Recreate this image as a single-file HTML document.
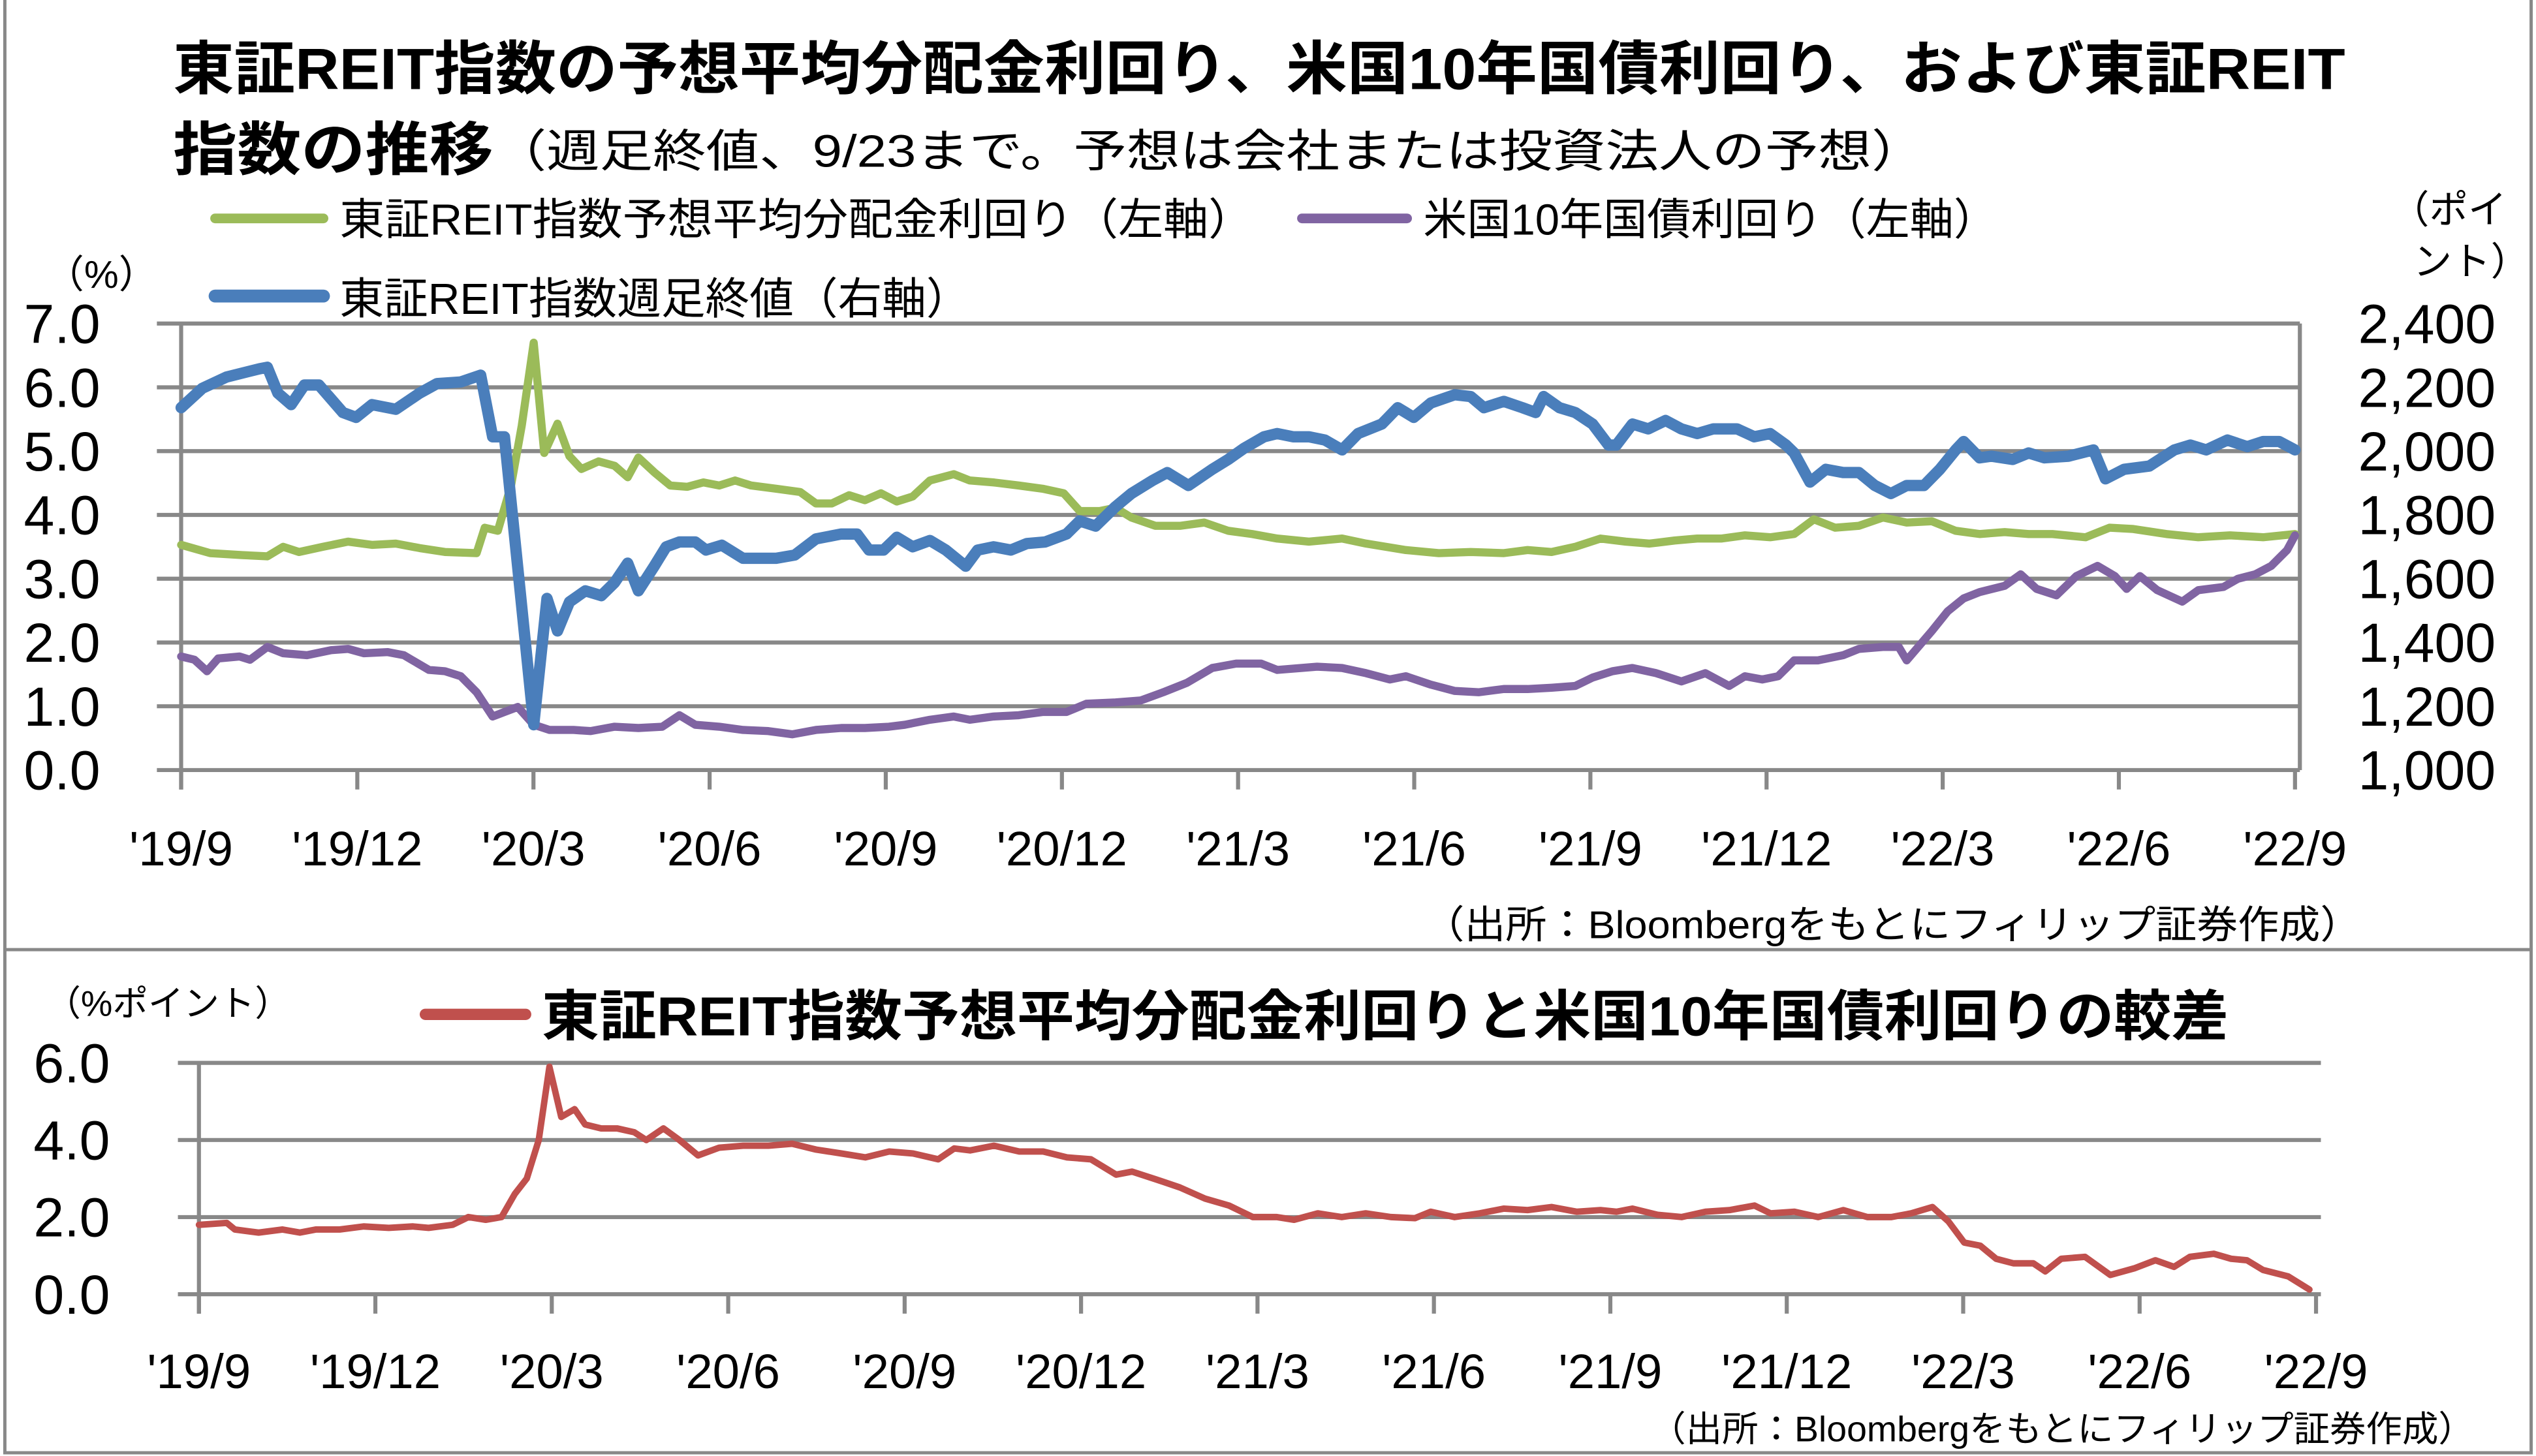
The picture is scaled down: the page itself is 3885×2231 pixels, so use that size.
<!DOCTYPE html>
<html><head><meta charset="utf-8">
<style>
html,body{margin:0;padding:0;background:#fff;}
svg{display:block;}
text{font-family:"Liberation Sans","Noto Sans CJK JP",sans-serif;fill:#000;}
</style></head>
<body>
<svg id="chart" width="3885" height="2231" viewBox="0 0 1568 900" preserveAspectRatio="none" xmlns="http://www.w3.org/2000/svg">
<rect x="0" y="0" width="1568" height="900" fill="#fff"/>
<rect x="3" y="587" width="1562" height="311" fill="none" stroke="#888" stroke-width="2"/>
<line x1="3" y1="0" x2="3" y2="587" stroke="#888" stroke-width="2"/>
<line x1="1565" y1="0" x2="1565" y2="587" stroke="#888" stroke-width="2"/>

<text x="107" y="55" font-size="36" font-weight="bold" textLength="1343" lengthAdjust="spacingAndGlyphs">東証REIT指数の予想平均分配金利回り、米国10年国債利回り、および東証REIT</text>
<text x="107" y="105" font-size="36" font-weight="bold" textLength="198" lengthAdjust="spacingAndGlyphs">指数の推移</text>
<text x="305" y="103" font-size="28" textLength="885" lengthAdjust="spacingAndGlyphs">（週足終値、9/23まで。予想は会社または投資法人の予想）</text>

<g>
<line x1="133" y1="135" x2="200" y2="135" stroke="#9BBB59" stroke-width="6" stroke-linecap="round"/>
<text x="210" y="145" font-size="27" textLength="565" lengthAdjust="spacingAndGlyphs">東証REIT指数予想平均分配金利回り（左軸）</text>
</g>
<g>
<line x1="805" y1="135" x2="870" y2="135" stroke="#8064A2" stroke-width="6" stroke-linecap="round"/>
<text x="880" y="145" font-size="27" textLength="355" lengthAdjust="spacingAndGlyphs">米国10年国債利回り（左軸）</text>
</g>
<g>
<line x1="133" y1="183" x2="200" y2="183" stroke="#4A7EBB" stroke-width="8" stroke-linecap="round"/>
<text x="210" y="194" font-size="27" textLength="390" lengthAdjust="spacingAndGlyphs">東証REIT指数週足終値（右軸）</text>
</g>
<text x="28" y="178" font-size="24">（%）</text>
<text x="1478" y="138" font-size="24">（ポイ</text>
<text x="1492" y="170" font-size="24">ント）</text>
<g id="top-grid"></g>
<g id="top-series"></g>
<text x="880" y="580" font-size="24" textLength="580" lengthAdjust="spacingAndGlyphs">（出所：Bloombergをもとにフィリップ証券作成）</text>

<text x="28" y="628" font-size="22">（%ポイント）</text>
<g>
<line x1="263" y1="627" x2="325" y2="627" stroke="#C0504D" stroke-width="7" stroke-linecap="round"/>
<text x="335" y="640" font-size="34" font-weight="bold" textLength="1043" lengthAdjust="spacingAndGlyphs">東証REIT指数予想平均分配金利回りと米国10年国債利回りの較差</text>
</g>
<g id="bottom-grid"></g>
<g id="bottom-series"></g>
<text x="1020" y="891" font-size="22" textLength="510" lengthAdjust="spacingAndGlyphs">（出所：Bloombergをもとにフィリップ証券作成）</text>
</svg>
<script>
const xTickLabels = ["'19/9","'19/12","'20/3","'20/6","'20/9","'20/12","'21/3","'21/6","'21/9","'21/12","'22/3","'22/6","'22/9"];
const leftTicks = ["0.0","1.0","2.0","3.0","4.0","5.0","6.0","7.0"];
const rightTicks = ["1,000","1,200","1,400","1,600","1,800","2,000","2,200","2,400"];
const bottomTicks = ["0.0","2.0","4.0","6.0"];

const reitWeeks = [0,1.6,3.4,5.9,6.5,7.3,8.3,9.3,10.4,12.2,13.2,14.4,16.2,18.0,19.3,21.1,22.6,23.5,24.4,26.6,27.6,28.4,29.3,30.5,31.7,32.7,33.7,34.5,35.7,36.6,37.6,38.8,39.6,40.8,42.4,43.7,44.9,46.3,47.9,49.8,51.0,51.9,53.0,54.0,55.2,56.5,57.7,59.2,60.1,61.3,62.6,63.8,65.2,66.8,67.8,69.0,70.5,71.7,73.3,74.4,76.0,77.8,79.0,80.2,81.7,82.7,83.9,85.1,86.3,87.6,88.8,90.6,91.8,93.0,94.3,96.1,97.3,98.3,99.8,101.2,102.2,102.8,104.0,105.2,106.5,107.7,108.3,109.5,110.7,112.0,113.2,114.4,115.6,117.4,118.7,119.9,121.1,121.7,122.9,124.1,125.4,126.6,127.8,129.0,130.2,131.5,132.7,133.9,134.5,135.7,136.6,138.2,139.4,140.6,142.4,144.3,145.2,146.6,148.5,150.4,151.6,152.8,154.4,155.9,157.1,158.3,159.5];
const reitValues = [2136,2197,2232,2258,2263,2182,2146,2207,2207,2121,2106,2146,2131,2182,2212,2217,2238,2045,2045,1142,1538,1436,1527,1562,1547,1588,1649,1562,1639,1700,1715,1715,1690,1705,1664,1664,1664,1674,1725,1740,1740,1690,1690,1730,1700,1720,1690,1639,1690,1700,1690,1710,1715,1740,1781,1765,1826,1867,1908,1933,1892,1943,1974,2009,2045,2055,2045,2045,2035,2004,2055,2085,2136,2106,2151,2177,2171,2136,2156,2136,2121,2171,2136,2121,2085,2019,2019,2085,2070,2096,2070,2055,2070,2070,2045,2055,2019,1994,1903,1943,1933,1933,1892,1867,1892,1892,1943,2004,2030,1979,1984,1974,1994,1979,1984,2004,1913,1943,1953,2004,2019,2004,2035,2014,2030,2030,2004];

const divWeeks = [0,2.2,4.6,6.5,7.7,8.9,10.7,12.6,14.4,16.2,18.0,19.9,22.3,22.9,23.9,24.9,25.7,26.6,27.4,28.4,29.3,30.2,31.5,32.7,33.7,34.5,35.7,36.9,38.2,39.4,40.6,41.8,43.0,44.9,46.7,47.9,49.1,50.4,51.6,52.8,54.0,55.2,56.5,58.3,59.5,61.3,63.2,65.0,66.6,67.8,69.3,70.5,71.7,73.5,75.4,77.2,79.0,80.8,82.7,85.1,87.6,89.4,92.4,94.9,97.3,99.8,101.6,103.4,105.2,107.1,109.0,110.8,112.7,114.4,116.2,118.0,119.9,121.7,123.2,124.8,126.6,128.4,130.2,132.1,133.9,135.7,137.6,139.4,141.2,143.7,145.5,147.3,149.8,152.2,154.6,157.1,159.5];
const divValues = [3.53,3.40,3.37,3.35,3.50,3.42,3.50,3.58,3.53,3.55,3.48,3.42,3.40,3.80,3.75,4.46,5.4,6.70,4.97,5.43,4.92,4.72,4.84,4.77,4.59,4.90,4.67,4.46,4.44,4.51,4.46,4.54,4.46,4.41,4.36,4.18,4.18,4.31,4.23,4.34,4.21,4.29,4.54,4.64,4.54,4.51,4.46,4.41,4.34,4.06,4.06,4.11,3.96,3.83,3.83,3.88,3.75,3.70,3.63,3.58,3.63,3.55,3.45,3.40,3.42,3.40,3.45,3.42,3.50,3.63,3.58,3.55,3.60,3.63,3.63,3.68,3.65,3.70,3.93,3.80,3.83,3.96,3.88,3.90,3.75,3.70,3.73,3.70,3.70,3.65,3.80,3.78,3.70,3.65,3.68,3.65,3.70];

const usWeeks = [0,1.0,1.95,2.8,4.4,5.2,6.5,7.7,9.5,11.3,12.6,13.8,15.6,16.8,18.7,19.9,21.1,22.3,23.5,24.4,25.4,26.6,27.8,29.6,30.9,32.7,34.5,36.3,37.6,38.8,40.6,42.4,44.3,46.1,47.9,49.8,51.6,53.4,54.6,56.5,58.3,59.5,61.3,63.2,65.0,66.8,68.3,70.5,72.4,74.1,75.9,77.8,79.6,81.5,82.7,84.5,85.7,87.6,89.4,91.2,92.4,94.3,96.1,97.9,99.8,101.6,103.4,105.2,106.5,108.0,109.5,111.3,113.2,115.0,116.8,118.0,119.3,120.5,121.7,123.5,125.4,126.6,128.4,129.6,130.2,132.1,133.3,134.5,135.7,137.6,138.8,140.0,141.5,143.0,144.6,145.9,146.8,147.8,149.1,151.0,152.2,154.1,155.2,156.5,157.7,158.9,159.5];
const usValues = [1.78,1.73,1.55,1.75,1.78,1.73,1.93,1.83,1.80,1.88,1.90,1.83,1.85,1.80,1.57,1.55,1.47,1.22,0.84,0.91,0.99,0.71,0.63,0.63,0.61,0.68,0.66,0.68,0.86,0.71,0.68,0.63,0.61,0.56,0.63,0.66,0.66,0.68,0.71,0.79,0.84,0.79,0.84,0.86,0.91,0.91,1.04,1.06,1.09,1.22,1.37,1.60,1.67,1.67,1.57,1.60,1.62,1.60,1.52,1.42,1.47,1.34,1.24,1.22,1.27,1.27,1.29,1.32,1.45,1.55,1.60,1.52,1.39,1.52,1.32,1.47,1.42,1.47,1.72,1.72,1.80,1.90,1.93,1.93,1.72,2.18,2.49,2.69,2.79,2.89,3.07,2.84,2.74,3.04,3.20,3.04,2.84,3.04,2.82,2.64,2.82,2.87,3.00,3.07,3.20,3.45,3.68];

const spreadWeeks = [0,2.1,2.7,4.5,6.3,7.6,8.8,10.6,12.4,14.3,16.1,17.3,19.1,20.3,21.6,22.8,23.8,24.7,25.6,26.4,27.3,28.3,29.1,30.3,31.5,32.8,33.7,35.0,36.2,37.6,39.2,41.0,42.9,44.7,46.5,48.4,50.2,52.0,53.8,55.7,56.9,58.1,59.9,61.8,63.6,65.4,67.2,69.1,70.3,72.1,73.9,75.8,77.6,79.4,81.2,82.5,84.3,86.1,87.9,89.8,91.6,92.8,94.6,96.5,98.3,100.1,101.9,103.8,105.6,106.8,108.0,109.9,111.7,113.5,115.3,117.2,118.4,120.2,122.0,123.9,125.7,127.5,129.0,130.6,131.8,133.0,134.2,135.4,136.7,138.2,139.1,140.3,142.1,144.0,145.8,147.4,148.8,150.0,151.8,153.1,154.3,155.5,157.4,159.0];
const spreadValues = [1.8,1.85,1.68,1.6,1.68,1.6,1.68,1.68,1.76,1.72,1.76,1.72,1.8,2.0,1.93,2.0,2.6,3.0,4.0,5.9,4.6,4.8,4.4,4.3,4.3,4.2,4.0,4.3,4.0,3.6,3.8,3.85,3.85,3.9,3.75,3.65,3.55,3.7,3.65,3.5,3.78,3.73,3.85,3.7,3.7,3.55,3.5,3.1,3.18,2.98,2.77,2.48,2.3,2.0,2.0,1.93,2.1,2.0,2.1,2.0,1.97,2.14,2.0,2.1,2.22,2.18,2.26,2.14,2.18,2.14,2.22,2.06,2.0,2.14,2.18,2.3,2.1,2.14,2.0,2.18,2.0,2.0,2.1,2.26,1.89,1.34,1.26,0.92,0.8,0.8,0.59,0.92,0.97,0.5,0.67,0.88,0.71,0.97,1.05,0.92,0.88,0.63,0.46,0.12];

const NS = "http://www.w3.org/2000/svg";
const WEEKS = 159.5;
// top axes
const tX0 = 112, tX1 = 1419, tY0 = 476, tY1 = 200;
const topX = w => tX0 + (w / WEEKS) * (tX1 - tX0);
const leftY = v => tY0 - (v / 7) * (tY0 - tY1);
const rightY = v => tY0 - ((v - 1000) / 1400) * (tY0 - tY1);
// bottom axes
const bX0 = 123, bX1 = 1432, bY0 = 800, bY1 = 657;
const botX = w => bX0 + (w / WEEKS) * (bX1 - bX0);
const botY = v => bY0 - (v / 6) * (bY0 - bY1);

function mk(tag, attrs, parent) {
  const el = document.createElementNS(NS, tag);
  for (const k in attrs) el.setAttribute(k, attrs[k]);
  parent.appendChild(el);
  return el;
}
const tg = document.getElementById('top-grid');
const ts = document.getElementById('top-series');
const bg = document.getElementById('bottom-grid');
const bs = document.getElementById('bottom-series');

// top gridlines & ticks
leftTicks.forEach((t, i) => {
  const y = leftY(i);
  const gl = mk('line', {x1: 97, y1: y, x2: 1422, y2: y, stroke: '#888', 'stroke-width': 2.5}, tg);
  
  
  const lt = mk('text', {x: 62, y: y + 12, 'font-size': 34, 'text-anchor': 'end'}, tg);
  lt.textContent = t;
  
  
});
rightTicks.forEach((t, i) => {
  const y = rightY(1000 + i * 200);
  const rt = mk('text', {x: 1458, y: y + 12, 'font-size': 34}, tg);
  rt.textContent = t;
  
  
});
const la = mk('line', {x1: tX0, y1: tY1, x2: tX0, y2: tY0 + 12, stroke: '#888', 'stroke-width': 2.5}, tg);


const ra = mk('line', {x1: 1422, y1: tY1, x2: 1422, y2: tY0, stroke: '#888', 'stroke-width': 2.5}, tg);


xTickLabels.forEach((t, i) => {
  const x = topX(i * 13.25 * WEEKS / 159);
  const tk = mk('line', {x1: x, y1: tY0, x2: x, y2: tY0 + 12, stroke: '#888', 'stroke-width': 2.5}, tg);
  
  
  const xl = mk('text', {x: x, y: 535, 'font-size': 30, 'text-anchor': 'middle'}, tg);
  xl.textContent = t;
  
  
});

function poly(weeks, vals, fx, fy, color, width, parent, name) {
  const pts = weeks.map((w, i) => fx(w).toFixed(1) + ',' + fy(vals[i]).toFixed(1)).join(' ');
  const p = mk('polyline', {points: pts, fill: 'none', stroke: color, 'stroke-width': width, 'stroke-linejoin': 'round', 'stroke-linecap': 'round'}, parent);
  
  
}
poly(divWeeks, divValues, topX, leftY, '#9BBB59', 5, ts, 'dividend-yield-line');
poly(usWeeks, usValues, topX, leftY, '#8064A2', 5, ts, 'us10y-yield-line');
poly(reitWeeks, reitValues, topX, rightY, '#4A7EBB', 7, ts, 'reit-index-line');

// bottom
bottomTicks.forEach((t, i) => {
  const y = botY(i * 2);
  const gl = mk('line', {x1: 110, y1: y, x2: 1435, y2: y, stroke: '#888', 'stroke-width': 2.5}, bg);
  
  
  const lt = mk('text', {x: 68, y: y + 12, 'font-size': 34, 'text-anchor': 'end'}, bg);
  lt.textContent = t;
  
  
});
const ba = mk('line', {x1: bX0, y1: bY1, x2: bX0, y2: bY0 + 12, stroke: '#888', 'stroke-width': 2.5}, bg);


xTickLabels.forEach((t, i) => {
  const x = botX(i * 13.25 * WEEKS / 159);
  const tk = mk('line', {x1: x, y1: bY0, x2: x, y2: bY0 + 12, stroke: '#888', 'stroke-width': 2.5}, bg);
  
  
  const xl = mk('text', {x: x, y: 858, 'font-size': 30, 'text-anchor': 'middle'}, bg);
  xl.textContent = t;
  
  
});
poly(spreadWeeks, spreadValues, botX, botY, '#C0504D', 4, bs, 'spread-line');
</script>
</body></html>
